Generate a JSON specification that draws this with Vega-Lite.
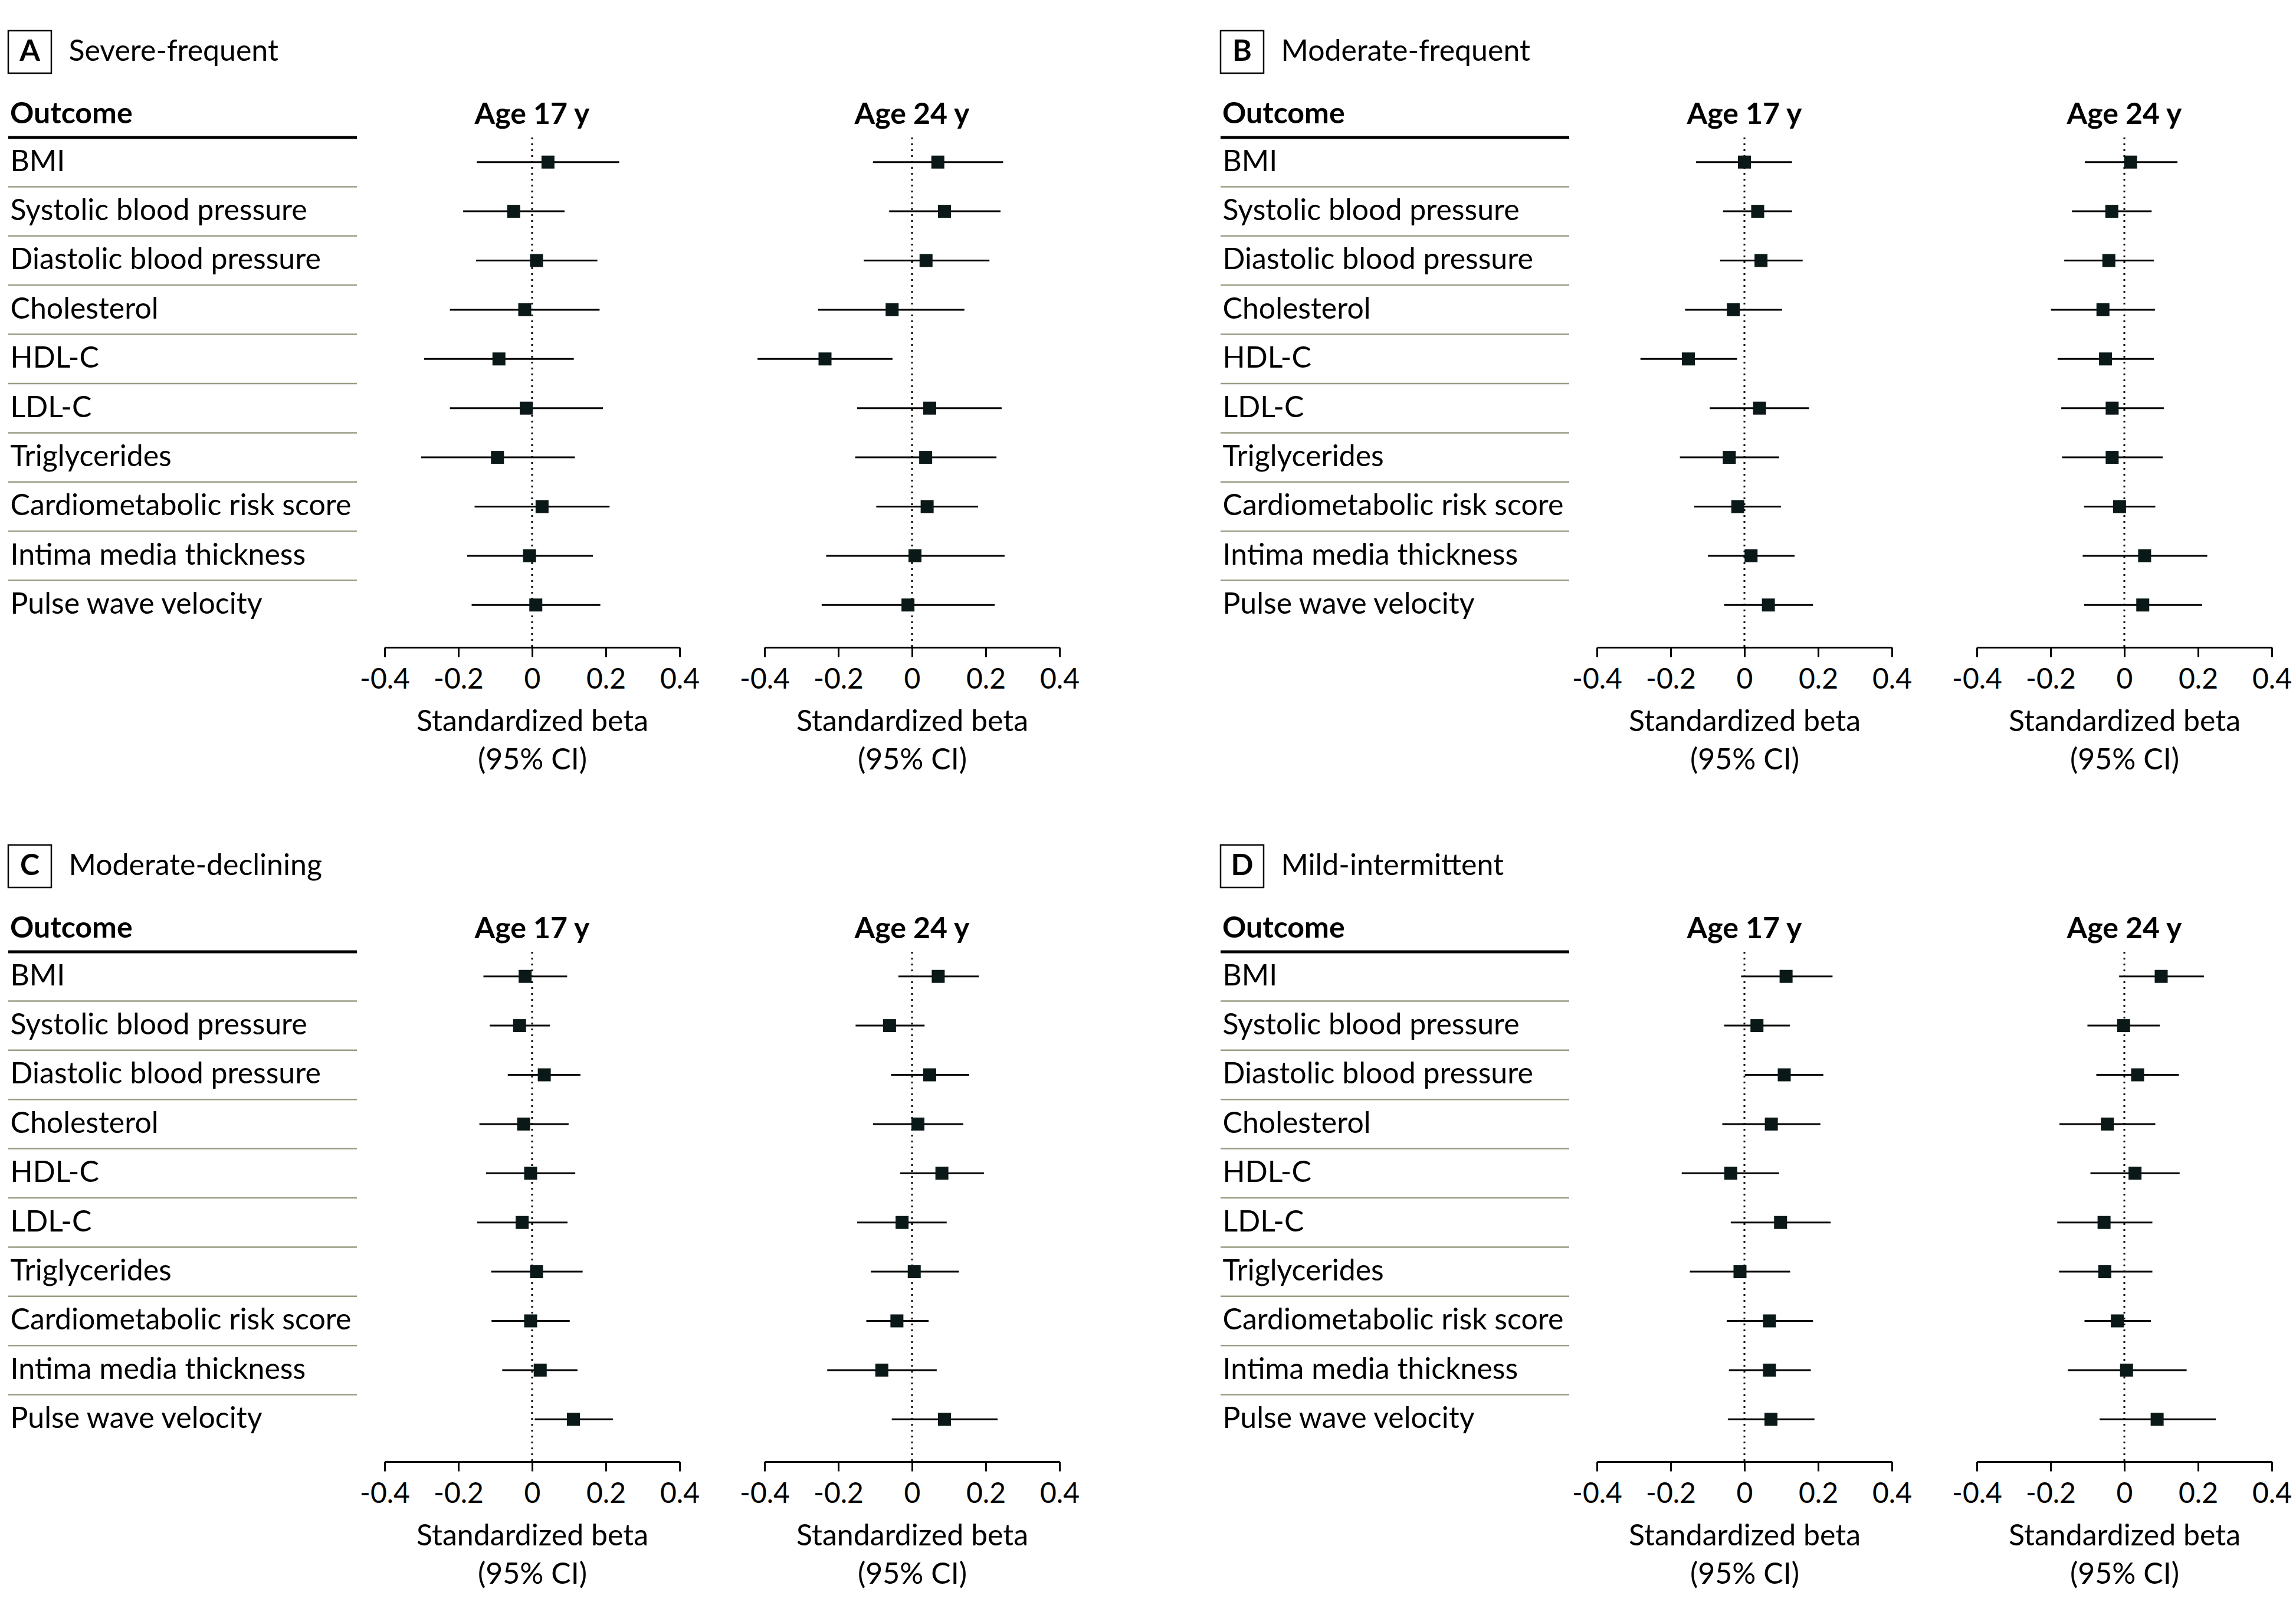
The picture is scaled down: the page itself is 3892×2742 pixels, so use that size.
{
  "$schema": "https://vega.github.io/schema/vega-lite/v6.json",
  "background": "white",
  "padding": {"left": 11, "top": 50, "right": 8, "bottom": 10},
  "config": {
    "font": "Lato",
    "view": {"stroke": null},
    "title": {"fontSize": 50, "fontWeight": "bold", "color": "black", "baseline": "alphabetic", "offset": 12, "frame": "group"},
    "text": {"fontSize": 50, "color": "black", "baseline": "middle"},
    "axis": {
      "labelFontSize": 48, "labelColor": "black", "titleFontSize": 50, "titleColor": "black",
      "titleFontWeight": "normal", "domainColor": "black", "tickColor": "black", "grid": false,
      "tickSize": 16, "tickWidth": 3, "domainWidth": 3, "labelPadding": 15, "titlePadding": 22, "titleLineHeight": 65,
      "labelOverlap": false, "labelFlush": false
    }
  },
  "datasets": {
    "outcomes": [
      {"outcome": "BMI"}, {"outcome": "Systolic blood pressure"}, {"outcome": "Diastolic blood pressure"},
      {"outcome": "Cholesterol"}, {"outcome": "HDL-C"}, {"outcome": "LDL-C"}, {"outcome": "Triglycerides"},
      {"outcome": "Cardiometabolic risk score"}, {"outcome": "Intima media thickness"}, {"outcome": "Pulse wave velocity"}
    ],
    "beta": [
      {"panel": "A", "age": 17, "outcome": "BMI", "beta": 0.043, "lo": -0.150, "hi": 0.236},
      {"panel": "A", "age": 17, "outcome": "Systolic blood pressure", "beta": -0.050, "lo": -0.187, "hi": 0.088},
      {"panel": "A", "age": 17, "outcome": "Diastolic blood pressure", "beta": 0.012, "lo": -0.152, "hi": 0.177},
      {"panel": "A", "age": 17, "outcome": "Cholesterol", "beta": -0.020, "lo": -0.223, "hi": 0.183},
      {"panel": "A", "age": 17, "outcome": "HDL-C", "beta": -0.090, "lo": -0.293, "hi": 0.113},
      {"panel": "A", "age": 17, "outcome": "LDL-C", "beta": -0.016, "lo": -0.223, "hi": 0.192},
      {"panel": "A", "age": 17, "outcome": "Triglycerides", "beta": -0.094, "lo": -0.301, "hi": 0.116},
      {"panel": "A", "age": 17, "outcome": "Cardiometabolic risk score", "beta": 0.027, "lo": -0.156, "hi": 0.210},
      {"panel": "A", "age": 17, "outcome": "Intima media thickness", "beta": -0.007, "lo": -0.176, "hi": 0.165},
      {"panel": "A", "age": 17, "outcome": "Pulse wave velocity", "beta": 0.010, "lo": -0.164, "hi": 0.185},
      {"panel": "A", "age": 24, "outcome": "BMI", "beta": 0.070, "lo": -0.106, "hi": 0.247},
      {"panel": "A", "age": 24, "outcome": "Systolic blood pressure", "beta": 0.088, "lo": -0.062, "hi": 0.240},
      {"panel": "A", "age": 24, "outcome": "Diastolic blood pressure", "beta": 0.038, "lo": -0.131, "hi": 0.210},
      {"panel": "A", "age": 24, "outcome": "Cholesterol", "beta": -0.054, "lo": -0.255, "hi": 0.142},
      {"panel": "A", "age": 24, "outcome": "HDL-C", "beta": -0.236, "lo": -0.419, "hi": -0.053},
      {"panel": "A", "age": 24, "outcome": "LDL-C", "beta": 0.048, "lo": -0.149, "hi": 0.243},
      {"panel": "A", "age": 24, "outcome": "Triglycerides", "beta": 0.037, "lo": -0.154, "hi": 0.229},
      {"panel": "A", "age": 24, "outcome": "Cardiometabolic risk score", "beta": 0.041, "lo": -0.097, "hi": 0.179},
      {"panel": "A", "age": 24, "outcome": "Intima media thickness", "beta": 0.008, "lo": -0.233, "hi": 0.251},
      {"panel": "A", "age": 24, "outcome": "Pulse wave velocity", "beta": -0.011, "lo": -0.245, "hi": 0.224},
      {"panel": "B", "age": 17, "outcome": "BMI", "beta": 0.000, "lo": -0.131, "hi": 0.129},
      {"panel": "B", "age": 17, "outcome": "Systolic blood pressure", "beta": 0.036, "lo": -0.058, "hi": 0.129},
      {"panel": "B", "age": 17, "outcome": "Diastolic blood pressure", "beta": 0.045, "lo": -0.066, "hi": 0.158},
      {"panel": "B", "age": 17, "outcome": "Cholesterol", "beta": -0.030, "lo": -0.161, "hi": 0.102},
      {"panel": "B", "age": 17, "outcome": "HDL-C", "beta": -0.152, "lo": -0.282, "hi": -0.020},
      {"panel": "B", "age": 17, "outcome": "LDL-C", "beta": 0.041, "lo": -0.094, "hi": 0.175},
      {"panel": "B", "age": 17, "outcome": "Triglycerides", "beta": -0.041, "lo": -0.175, "hi": 0.094},
      {"panel": "B", "age": 17, "outcome": "Cardiometabolic risk score", "beta": -0.018, "lo": -0.136, "hi": 0.099},
      {"panel": "B", "age": 17, "outcome": "Intima media thickness", "beta": 0.018, "lo": -0.099, "hi": 0.136},
      {"panel": "B", "age": 17, "outcome": "Pulse wave velocity", "beta": 0.065, "lo": -0.055, "hi": 0.186},
      {"panel": "B", "age": 24, "outcome": "BMI", "beta": 0.017, "lo": -0.107, "hi": 0.144},
      {"panel": "B", "age": 24, "outcome": "Systolic blood pressure", "beta": -0.034, "lo": -0.142, "hi": 0.074},
      {"panel": "B", "age": 24, "outcome": "Diastolic blood pressure", "beta": -0.042, "lo": -0.163, "hi": 0.080},
      {"panel": "B", "age": 24, "outcome": "Cholesterol", "beta": -0.058, "lo": -0.199, "hi": 0.083},
      {"panel": "B", "age": 24, "outcome": "HDL-C", "beta": -0.051, "lo": -0.181, "hi": 0.080},
      {"panel": "B", "age": 24, "outcome": "LDL-C", "beta": -0.033, "lo": -0.171, "hi": 0.107},
      {"panel": "B", "age": 24, "outcome": "Triglycerides", "beta": -0.033, "lo": -0.169, "hi": 0.104},
      {"panel": "B", "age": 24, "outcome": "Cardiometabolic risk score", "beta": -0.013, "lo": -0.109, "hi": 0.084},
      {"panel": "B", "age": 24, "outcome": "Intima media thickness", "beta": 0.055, "lo": -0.113, "hi": 0.225},
      {"panel": "B", "age": 24, "outcome": "Pulse wave velocity", "beta": 0.050, "lo": -0.109, "hi": 0.211},
      {"panel": "C", "age": 17, "outcome": "BMI", "beta": -0.019, "lo": -0.132, "hi": 0.095},
      {"panel": "C", "age": 17, "outcome": "Systolic blood pressure", "beta": -0.034, "lo": -0.115, "hi": 0.048},
      {"panel": "C", "age": 17, "outcome": "Diastolic blood pressure", "beta": 0.033, "lo": -0.066, "hi": 0.131},
      {"panel": "C", "age": 17, "outcome": "Cholesterol", "beta": -0.023, "lo": -0.143, "hi": 0.099},
      {"panel": "C", "age": 17, "outcome": "HDL-C", "beta": -0.004, "lo": -0.125, "hi": 0.117},
      {"panel": "C", "age": 17, "outcome": "LDL-C", "beta": -0.027, "lo": -0.149, "hi": 0.096},
      {"panel": "C", "age": 17, "outcome": "Triglycerides", "beta": 0.012, "lo": -0.111, "hi": 0.137},
      {"panel": "C", "age": 17, "outcome": "Cardiometabolic risk score", "beta": -0.004, "lo": -0.110, "hi": 0.102},
      {"panel": "C", "age": 17, "outcome": "Intima media thickness", "beta": 0.022, "lo": -0.081, "hi": 0.123},
      {"panel": "C", "age": 17, "outcome": "Pulse wave velocity", "beta": 0.112, "lo": 0.007, "hi": 0.219},
      {"panel": "C", "age": 24, "outcome": "BMI", "beta": 0.071, "lo": -0.037, "hi": 0.181},
      {"panel": "C", "age": 24, "outcome": "Systolic blood pressure", "beta": -0.061, "lo": -0.153, "hi": 0.034},
      {"panel": "C", "age": 24, "outcome": "Diastolic blood pressure", "beta": 0.048, "lo": -0.057, "hi": 0.155},
      {"panel": "C", "age": 24, "outcome": "Cholesterol", "beta": 0.016, "lo": -0.106, "hi": 0.139},
      {"panel": "C", "age": 24, "outcome": "HDL-C", "beta": 0.081, "lo": -0.032, "hi": 0.195},
      {"panel": "C", "age": 24, "outcome": "LDL-C", "beta": -0.027, "lo": -0.149, "hi": 0.094},
      {"panel": "C", "age": 24, "outcome": "Triglycerides", "beta": 0.006, "lo": -0.112, "hi": 0.127},
      {"panel": "C", "age": 24, "outcome": "Cardiometabolic risk score", "beta": -0.041, "lo": -0.124, "hi": 0.045},
      {"panel": "C", "age": 24, "outcome": "Intima media thickness", "beta": -0.082, "lo": -0.230, "hi": 0.067},
      {"panel": "C", "age": 24, "outcome": "Pulse wave velocity", "beta": 0.088, "lo": -0.055, "hi": 0.232},
      {"panel": "D", "age": 17, "outcome": "BMI", "beta": 0.113, "lo": -0.009, "hi": 0.239},
      {"panel": "D", "age": 17, "outcome": "Systolic blood pressure", "beta": 0.034, "lo": -0.055, "hi": 0.123},
      {"panel": "D", "age": 17, "outcome": "Diastolic blood pressure", "beta": 0.108, "lo": 0.001, "hi": 0.214},
      {"panel": "D", "age": 17, "outcome": "Cholesterol", "beta": 0.073, "lo": -0.060, "hi": 0.206},
      {"panel": "D", "age": 17, "outcome": "HDL-C", "beta": -0.037, "lo": -0.170, "hi": 0.094},
      {"panel": "D", "age": 17, "outcome": "LDL-C", "beta": 0.098, "lo": -0.037, "hi": 0.234},
      {"panel": "D", "age": 17, "outcome": "Triglycerides", "beta": -0.012, "lo": -0.148, "hi": 0.124},
      {"panel": "D", "age": 17, "outcome": "Cardiometabolic risk score", "beta": 0.068, "lo": -0.048, "hi": 0.186},
      {"panel": "D", "age": 17, "outcome": "Intima media thickness", "beta": 0.068, "lo": -0.042, "hi": 0.180},
      {"panel": "D", "age": 17, "outcome": "Pulse wave velocity", "beta": 0.072, "lo": -0.045, "hi": 0.190},
      {"panel": "D", "age": 24, "outcome": "BMI", "beta": 0.100, "lo": -0.014, "hi": 0.216},
      {"panel": "D", "age": 24, "outcome": "Systolic blood pressure", "beta": -0.002, "lo": -0.100, "hi": 0.096},
      {"panel": "D", "age": 24, "outcome": "Diastolic blood pressure", "beta": 0.036, "lo": -0.076, "hi": 0.148},
      {"panel": "D", "age": 24, "outcome": "Cholesterol", "beta": -0.046, "lo": -0.176, "hi": 0.084},
      {"panel": "D", "age": 24, "outcome": "HDL-C", "beta": 0.029, "lo": -0.092, "hi": 0.150},
      {"panel": "D", "age": 24, "outcome": "LDL-C", "beta": -0.055, "lo": -0.182, "hi": 0.076},
      {"panel": "D", "age": 24, "outcome": "Triglycerides", "beta": -0.053, "lo": -0.177, "hi": 0.076},
      {"panel": "D", "age": 24, "outcome": "Cardiometabolic risk score", "beta": -0.019, "lo": -0.108, "hi": 0.072},
      {"panel": "D", "age": 24, "outcome": "Intima media thickness", "beta": 0.006, "lo": -0.153, "hi": 0.169},
      {"panel": "D", "age": 24, "outcome": "Pulse wave velocity", "beta": 0.089, "lo": -0.067, "hi": 0.248}
    ]
  },
  "bounds": "flush",
  "spacing": 1380,
  "vconcat": [
    {
      "bounds": "flush",
      "spacing": 2055,
      "hconcat": [
        {
          "bounds": "flush", "spacing": 109,
          "vconcat": [
            {
              "width": 73, "height": 72,
              "view": {"stroke": "black", "strokeWidth": 2.5},
              "data": {"values": [{"letter": "A", "name": "Severe-frequent"}]},
              "layer": [
                {"mark": {"type": "text", "fontWeight": "bold", "align": "center"}, "encoding": {"text": {"field": "letter"}}},
                {"mark": {"type": "text", "align": "left", "dx": 66}, "encoding": {"text": {"field": "name"}}}
              ]
            },
            {
              "bounds": "flush", "spacing": 47,
              "hconcat": [
                {
                  "width": 591, "height": 864,
                  "title": {"text": "Outcome", "anchor": "start", "dx": 3},
                  "data": {"name": "outcomes"},
                  "layer": [
                    {
                      "transform": [{"filter": "datum.outcome !== 'Pulse wave velocity'"}],
                      "mark": {"type": "rule", "color": "#9a9d85", "strokeWidth": 2.5},
                      "encoding": {"y": {"field": "outcome", "type": "nominal", "bandPosition": 1,
                        "scale": {"type": "band", "domain": ["BMI", "Systolic blood pressure", "Diastolic blood pressure", "Cholesterol", "HDL-C", "LDL-C", "Triglycerides", "Cardiometabolic risk score", "Intima media thickness", "Pulse wave velocity"], "paddingInner": 0, "paddingOuter": 0.18, "align": 0},
                        "axis": {"title": null, "ticks": false, "tickSize": 0, "domain": false, "labelAlign": "left", "labelBaseline": "middle", "labelPadding": -3, "labelLimit": 0, "labelFontSize": 50}}}
                    },
                    {
                      "transform": [{"filter": "datum.outcome === 'BMI'"}],
                      "mark": {"type": "rule", "color": "black", "strokeWidth": 5},
                      "encoding": {"y": {"field": "outcome", "type": "nominal", "bandPosition": 0,
                        "scale": {"type": "band", "domain": ["BMI", "Systolic blood pressure", "Diastolic blood pressure", "Cholesterol", "HDL-C", "LDL-C", "Triglycerides", "Cardiometabolic risk score", "Intima media thickness", "Pulse wave velocity"], "paddingInner": 0, "paddingOuter": 0.18, "align": 0},
                        "axis": {"title": null, "ticks": false, "tickSize": 0, "domain": false, "labelAlign": "left", "labelBaseline": "middle", "labelPadding": -3, "labelLimit": 0, "labelFontSize": 50}}}
                    }
                  ]
                },
                {
                  "bounds": "flush", "spacing": 144,
                  "hconcat": [
                    {
                      "width": 500, "height": 864, "title": "Age 17 y",
                      "layer": [
                        {"data": {"values": [{"ref": 0}]}, "mark": {"type": "rule", "strokeDash": [3, 7], "strokeWidth": 3, "color": "black"},
                         "encoding": {"x": {"field": "ref", "type": "quantitative", "scale": {"domain": [-0.4, 0.4], "nice": false},
                           "axis": {"values": [-0.4, -0.2, 0, 0.2, 0.4], "labelExpr": "datum.value == 0 ? '0' : (datum.value < 0 ? '-' : '') + format(abs(datum.value), '.1f')", "title": ["Standardized beta", "(95% CI)"]}}}},
                        {
                          "data": {"name": "beta"},
                          "transform": [{"filter": "datum.panel === 'A' && datum.age === 17"}],
                          "encoding": {"y": {"field": "outcome", "type": "nominal", "axis": null,
                            "scale": {"type": "band", "domain": ["BMI", "Systolic blood pressure", "Diastolic blood pressure", "Cholesterol", "HDL-C", "LDL-C", "Triglycerides", "Cardiometabolic risk score", "Intima media thickness", "Pulse wave velocity"], "paddingInner": 0, "paddingOuter": 0.18, "align": 0}}},
                          "layer": [
                            {"mark": {"type": "rule", "strokeWidth": 3, "color": "black"},
                             "encoding": {"x": {"field": "lo", "type": "quantitative", "scale": {"domain": [-0.4, 0.4], "nice": false},
                               "axis": {"values": [-0.4, -0.2, 0, 0.2, 0.4], "labelExpr": "datum.value == 0 ? '0' : (datum.value < 0 ? '-' : '') + format(abs(datum.value), '.1f')", "title": ["Standardized beta", "(95% CI)"]}}, "x2": {"field": "hi"}}},
                            {"mark": {"type": "point", "shape": "square", "filled": true, "size": 484, "color": "#0a1818", "opacity": 1},
                             "encoding": {"x": {"field": "beta", "type": "quantitative", "scale": {"domain": [-0.4, 0.4], "nice": false},
                               "axis": {"values": [-0.4, -0.2, 0, 0.2, 0.4], "labelExpr": "datum.value == 0 ? '0' : (datum.value < 0 ? '-' : '') + format(abs(datum.value), '.1f')", "title": ["Standardized beta", "(95% CI)"]}}}}
                          ]
                        }
                      ]
                    },
                    {
                      "width": 500, "height": 864, "title": "Age 24 y",
                      "layer": [
                        {"data": {"values": [{"ref": 0}]}, "mark": {"type": "rule", "strokeDash": [3, 7], "strokeWidth": 3, "color": "black"},
                         "encoding": {"x": {"field": "ref", "type": "quantitative", "scale": {"domain": [-0.4, 0.4], "nice": false},
                           "axis": {"values": [-0.4, -0.2, 0, 0.2, 0.4], "labelExpr": "datum.value == 0 ? '0' : (datum.value < 0 ? '-' : '') + format(abs(datum.value), '.1f')", "title": ["Standardized beta", "(95% CI)"]}}}},
                        {
                          "data": {"name": "beta"},
                          "transform": [{"filter": "datum.panel === 'A' && datum.age === 24"}],
                          "encoding": {"y": {"field": "outcome", "type": "nominal", "axis": null,
                            "scale": {"type": "band", "domain": ["BMI", "Systolic blood pressure", "Diastolic blood pressure", "Cholesterol", "HDL-C", "LDL-C", "Triglycerides", "Cardiometabolic risk score", "Intima media thickness", "Pulse wave velocity"], "paddingInner": 0, "paddingOuter": 0.18, "align": 0}}},
                          "layer": [
                            {"mark": {"type": "rule", "strokeWidth": 3, "color": "black"},
                             "encoding": {"x": {"field": "lo", "type": "quantitative", "scale": {"domain": [-0.4, 0.4], "nice": false},
                               "axis": {"values": [-0.4, -0.2, 0, 0.2, 0.4], "labelExpr": "datum.value == 0 ? '0' : (datum.value < 0 ? '-' : '') + format(abs(datum.value), '.1f')", "title": ["Standardized beta", "(95% CI)"]}}, "x2": {"field": "hi"}}},
                            {"mark": {"type": "point", "shape": "square", "filled": true, "size": 484, "color": "#0a1818", "opacity": 1},
                             "encoding": {"x": {"field": "beta", "type": "quantitative", "scale": {"domain": [-0.4, 0.4], "nice": false},
                               "axis": {"values": [-0.4, -0.2, 0, 0.2, 0.4], "labelExpr": "datum.value == 0 ? '0' : (datum.value < 0 ? '-' : '') + format(abs(datum.value), '.1f')", "title": ["Standardized beta", "(95% CI)"]}}}}
                          ]
                        }
                      ]
                    }
                  ]
                }
              ]
            }
          ]
        },
        {
          "bounds": "flush", "spacing": 109,
          "vconcat": [
            {
              "width": 73, "height": 72,
              "view": {"stroke": "black", "strokeWidth": 2.5},
              "data": {"values": [{"letter": "B", "name": "Moderate-frequent"}]},
              "layer": [
                {"mark": {"type": "text", "fontWeight": "bold", "align": "center"}, "encoding": {"text": {"field": "letter"}}},
                {"mark": {"type": "text", "align": "left", "dx": 66}, "encoding": {"text": {"field": "name"}}}
              ]
            },
            {
              "bounds": "flush", "spacing": 47,
              "hconcat": [
                {
                  "width": 591, "height": 864,
                  "title": {"text": "Outcome", "anchor": "start", "dx": 3},
                  "data": {"name": "outcomes"},
                  "layer": [
                    {
                      "transform": [{"filter": "datum.outcome !== 'Pulse wave velocity'"}],
                      "mark": {"type": "rule", "color": "#9a9d85", "strokeWidth": 2.5},
                      "encoding": {"y": {"field": "outcome", "type": "nominal", "bandPosition": 1,
                        "scale": {"type": "band", "domain": ["BMI", "Systolic blood pressure", "Diastolic blood pressure", "Cholesterol", "HDL-C", "LDL-C", "Triglycerides", "Cardiometabolic risk score", "Intima media thickness", "Pulse wave velocity"], "paddingInner": 0, "paddingOuter": 0.18, "align": 0},
                        "axis": {"title": null, "ticks": false, "tickSize": 0, "domain": false, "labelAlign": "left", "labelBaseline": "middle", "labelPadding": -3, "labelLimit": 0, "labelFontSize": 50}}}
                    },
                    {
                      "transform": [{"filter": "datum.outcome === 'BMI'"}],
                      "mark": {"type": "rule", "color": "black", "strokeWidth": 5},
                      "encoding": {"y": {"field": "outcome", "type": "nominal", "bandPosition": 0,
                        "scale": {"type": "band", "domain": ["BMI", "Systolic blood pressure", "Diastolic blood pressure", "Cholesterol", "HDL-C", "LDL-C", "Triglycerides", "Cardiometabolic risk score", "Intima media thickness", "Pulse wave velocity"], "paddingInner": 0, "paddingOuter": 0.18, "align": 0},
                        "axis": {"title": null, "ticks": false, "tickSize": 0, "domain": false, "labelAlign": "left", "labelBaseline": "middle", "labelPadding": -3, "labelLimit": 0, "labelFontSize": 50}}}
                    }
                  ]
                },
                {
                  "bounds": "flush", "spacing": 144,
                  "hconcat": [
                    {
                      "width": 500, "height": 864, "title": "Age 17 y",
                      "layer": [
                        {"data": {"values": [{"ref": 0}]}, "mark": {"type": "rule", "strokeDash": [3, 7], "strokeWidth": 3, "color": "black"},
                         "encoding": {"x": {"field": "ref", "type": "quantitative", "scale": {"domain": [-0.4, 0.4], "nice": false},
                           "axis": {"values": [-0.4, -0.2, 0, 0.2, 0.4], "labelExpr": "datum.value == 0 ? '0' : (datum.value < 0 ? '-' : '') + format(abs(datum.value), '.1f')", "title": ["Standardized beta", "(95% CI)"]}}}},
                        {
                          "data": {"name": "beta"},
                          "transform": [{"filter": "datum.panel === 'B' && datum.age === 17"}],
                          "encoding": {"y": {"field": "outcome", "type": "nominal", "axis": null,
                            "scale": {"type": "band", "domain": ["BMI", "Systolic blood pressure", "Diastolic blood pressure", "Cholesterol", "HDL-C", "LDL-C", "Triglycerides", "Cardiometabolic risk score", "Intima media thickness", "Pulse wave velocity"], "paddingInner": 0, "paddingOuter": 0.18, "align": 0}}},
                          "layer": [
                            {"mark": {"type": "rule", "strokeWidth": 3, "color": "black"},
                             "encoding": {"x": {"field": "lo", "type": "quantitative", "scale": {"domain": [-0.4, 0.4], "nice": false},
                               "axis": {"values": [-0.4, -0.2, 0, 0.2, 0.4], "labelExpr": "datum.value == 0 ? '0' : (datum.value < 0 ? '-' : '') + format(abs(datum.value), '.1f')", "title": ["Standardized beta", "(95% CI)"]}}, "x2": {"field": "hi"}}},
                            {"mark": {"type": "point", "shape": "square", "filled": true, "size": 484, "color": "#0a1818", "opacity": 1},
                             "encoding": {"x": {"field": "beta", "type": "quantitative", "scale": {"domain": [-0.4, 0.4], "nice": false},
                               "axis": {"values": [-0.4, -0.2, 0, 0.2, 0.4], "labelExpr": "datum.value == 0 ? '0' : (datum.value < 0 ? '-' : '') + format(abs(datum.value), '.1f')", "title": ["Standardized beta", "(95% CI)"]}}}}
                          ]
                        }
                      ]
                    },
                    {
                      "width": 500, "height": 864, "title": "Age 24 y",
                      "layer": [
                        {"data": {"values": [{"ref": 0}]}, "mark": {"type": "rule", "strokeDash": [3, 7], "strokeWidth": 3, "color": "black"},
                         "encoding": {"x": {"field": "ref", "type": "quantitative", "scale": {"domain": [-0.4, 0.4], "nice": false},
                           "axis": {"values": [-0.4, -0.2, 0, 0.2, 0.4], "labelExpr": "datum.value == 0 ? '0' : (datum.value < 0 ? '-' : '') + format(abs(datum.value), '.1f')", "title": ["Standardized beta", "(95% CI)"]}}}},
                        {
                          "data": {"name": "beta"},
                          "transform": [{"filter": "datum.panel === 'B' && datum.age === 24"}],
                          "encoding": {"y": {"field": "outcome", "type": "nominal", "axis": null,
                            "scale": {"type": "band", "domain": ["BMI", "Systolic blood pressure", "Diastolic blood pressure", "Cholesterol", "HDL-C", "LDL-C", "Triglycerides", "Cardiometabolic risk score", "Intima media thickness", "Pulse wave velocity"], "paddingInner": 0, "paddingOuter": 0.18, "align": 0}}},
                          "layer": [
                            {"mark": {"type": "rule", "strokeWidth": 3, "color": "black"},
                             "encoding": {"x": {"field": "lo", "type": "quantitative", "scale": {"domain": [-0.4, 0.4], "nice": false},
                               "axis": {"values": [-0.4, -0.2, 0, 0.2, 0.4], "labelExpr": "datum.value == 0 ? '0' : (datum.value < 0 ? '-' : '') + format(abs(datum.value), '.1f')", "title": ["Standardized beta", "(95% CI)"]}}, "x2": {"field": "hi"}}},
                            {"mark": {"type": "point", "shape": "square", "filled": true, "size": 484, "color": "#0a1818", "opacity": 1},
                             "encoding": {"x": {"field": "beta", "type": "quantitative", "scale": {"domain": [-0.4, 0.4], "nice": false},
                               "axis": {"values": [-0.4, -0.2, 0, 0.2, 0.4], "labelExpr": "datum.value == 0 ? '0' : (datum.value < 0 ? '-' : '') + format(abs(datum.value), '.1f')", "title": ["Standardized beta", "(95% CI)"]}}}}
                          ]
                        }
                      ]
                    }
                  ]
                }
              ]
            }
          ]
        }
      ]
    },
    {
      "bounds": "flush",
      "spacing": 2055,
      "hconcat": [
        {
          "bounds": "flush", "spacing": 109,
          "vconcat": [
            {
              "width": 73, "height": 72,
              "view": {"stroke": "black", "strokeWidth": 2.5},
              "data": {"values": [{"letter": "C", "name": "Moderate-declining"}]},
              "layer": [
                {"mark": {"type": "text", "fontWeight": "bold", "align": "center"}, "encoding": {"text": {"field": "letter"}}},
                {"mark": {"type": "text", "align": "left", "dx": 66}, "encoding": {"text": {"field": "name"}}}
              ]
            },
            {
              "bounds": "flush", "spacing": 47,
              "hconcat": [
                {
                  "width": 591, "height": 864,
                  "title": {"text": "Outcome", "anchor": "start", "dx": 3},
                  "data": {"name": "outcomes"},
                  "layer": [
                    {
                      "transform": [{"filter": "datum.outcome !== 'Pulse wave velocity'"}],
                      "mark": {"type": "rule", "color": "#9a9d85", "strokeWidth": 2.5},
                      "encoding": {"y": {"field": "outcome", "type": "nominal", "bandPosition": 1,
                        "scale": {"type": "band", "domain": ["BMI", "Systolic blood pressure", "Diastolic blood pressure", "Cholesterol", "HDL-C", "LDL-C", "Triglycerides", "Cardiometabolic risk score", "Intima media thickness", "Pulse wave velocity"], "paddingInner": 0, "paddingOuter": 0.18, "align": 0},
                        "axis": {"title": null, "ticks": false, "tickSize": 0, "domain": false, "labelAlign": "left", "labelBaseline": "middle", "labelPadding": -3, "labelLimit": 0, "labelFontSize": 50}}}
                    },
                    {
                      "transform": [{"filter": "datum.outcome === 'BMI'"}],
                      "mark": {"type": "rule", "color": "black", "strokeWidth": 5},
                      "encoding": {"y": {"field": "outcome", "type": "nominal", "bandPosition": 0,
                        "scale": {"type": "band", "domain": ["BMI", "Systolic blood pressure", "Diastolic blood pressure", "Cholesterol", "HDL-C", "LDL-C", "Triglycerides", "Cardiometabolic risk score", "Intima media thickness", "Pulse wave velocity"], "paddingInner": 0, "paddingOuter": 0.18, "align": 0},
                        "axis": {"title": null, "ticks": false, "tickSize": 0, "domain": false, "labelAlign": "left", "labelBaseline": "middle", "labelPadding": -3, "labelLimit": 0, "labelFontSize": 50}}}
                    }
                  ]
                },
                {
                  "bounds": "flush", "spacing": 144,
                  "hconcat": [
                    {
                      "width": 500, "height": 864, "title": "Age 17 y",
                      "layer": [
                        {"data": {"values": [{"ref": 0}]}, "mark": {"type": "rule", "strokeDash": [3, 7], "strokeWidth": 3, "color": "black"},
                         "encoding": {"x": {"field": "ref", "type": "quantitative", "scale": {"domain": [-0.4, 0.4], "nice": false},
                           "axis": {"values": [-0.4, -0.2, 0, 0.2, 0.4], "labelExpr": "datum.value == 0 ? '0' : (datum.value < 0 ? '-' : '') + format(abs(datum.value), '.1f')", "title": ["Standardized beta", "(95% CI)"]}}}},
                        {
                          "data": {"name": "beta"},
                          "transform": [{"filter": "datum.panel === 'C' && datum.age === 17"}],
                          "encoding": {"y": {"field": "outcome", "type": "nominal", "axis": null,
                            "scale": {"type": "band", "domain": ["BMI", "Systolic blood pressure", "Diastolic blood pressure", "Cholesterol", "HDL-C", "LDL-C", "Triglycerides", "Cardiometabolic risk score", "Intima media thickness", "Pulse wave velocity"], "paddingInner": 0, "paddingOuter": 0.18, "align": 0}}},
                          "layer": [
                            {"mark": {"type": "rule", "strokeWidth": 3, "color": "black"},
                             "encoding": {"x": {"field": "lo", "type": "quantitative", "scale": {"domain": [-0.4, 0.4], "nice": false},
                               "axis": {"values": [-0.4, -0.2, 0, 0.2, 0.4], "labelExpr": "datum.value == 0 ? '0' : (datum.value < 0 ? '-' : '') + format(abs(datum.value), '.1f')", "title": ["Standardized beta", "(95% CI)"]}}, "x2": {"field": "hi"}}},
                            {"mark": {"type": "point", "shape": "square", "filled": true, "size": 484, "color": "#0a1818", "opacity": 1},
                             "encoding": {"x": {"field": "beta", "type": "quantitative", "scale": {"domain": [-0.4, 0.4], "nice": false},
                               "axis": {"values": [-0.4, -0.2, 0, 0.2, 0.4], "labelExpr": "datum.value == 0 ? '0' : (datum.value < 0 ? '-' : '') + format(abs(datum.value), '.1f')", "title": ["Standardized beta", "(95% CI)"]}}}}
                          ]
                        }
                      ]
                    },
                    {
                      "width": 500, "height": 864, "title": "Age 24 y",
                      "layer": [
                        {"data": {"values": [{"ref": 0}]}, "mark": {"type": "rule", "strokeDash": [3, 7], "strokeWidth": 3, "color": "black"},
                         "encoding": {"x": {"field": "ref", "type": "quantitative", "scale": {"domain": [-0.4, 0.4], "nice": false},
                           "axis": {"values": [-0.4, -0.2, 0, 0.2, 0.4], "labelExpr": "datum.value == 0 ? '0' : (datum.value < 0 ? '-' : '') + format(abs(datum.value), '.1f')", "title": ["Standardized beta", "(95% CI)"]}}}},
                        {
                          "data": {"name": "beta"},
                          "transform": [{"filter": "datum.panel === 'C' && datum.age === 24"}],
                          "encoding": {"y": {"field": "outcome", "type": "nominal", "axis": null,
                            "scale": {"type": "band", "domain": ["BMI", "Systolic blood pressure", "Diastolic blood pressure", "Cholesterol", "HDL-C", "LDL-C", "Triglycerides", "Cardiometabolic risk score", "Intima media thickness", "Pulse wave velocity"], "paddingInner": 0, "paddingOuter": 0.18, "align": 0}}},
                          "layer": [
                            {"mark": {"type": "rule", "strokeWidth": 3, "color": "black"},
                             "encoding": {"x": {"field": "lo", "type": "quantitative", "scale": {"domain": [-0.4, 0.4], "nice": false},
                               "axis": {"values": [-0.4, -0.2, 0, 0.2, 0.4], "labelExpr": "datum.value == 0 ? '0' : (datum.value < 0 ? '-' : '') + format(abs(datum.value), '.1f')", "title": ["Standardized beta", "(95% CI)"]}}, "x2": {"field": "hi"}}},
                            {"mark": {"type": "point", "shape": "square", "filled": true, "size": 484, "color": "#0a1818", "opacity": 1},
                             "encoding": {"x": {"field": "beta", "type": "quantitative", "scale": {"domain": [-0.4, 0.4], "nice": false},
                               "axis": {"values": [-0.4, -0.2, 0, 0.2, 0.4], "labelExpr": "datum.value == 0 ? '0' : (datum.value < 0 ? '-' : '') + format(abs(datum.value), '.1f')", "title": ["Standardized beta", "(95% CI)"]}}}}
                          ]
                        }
                      ]
                    }
                  ]
                }
              ]
            }
          ]
        },
        {
          "bounds": "flush", "spacing": 109,
          "vconcat": [
            {
              "width": 73, "height": 72,
              "view": {"stroke": "black", "strokeWidth": 2.5},
              "data": {"values": [{"letter": "D", "name": "Mild-intermittent"}]},
              "layer": [
                {"mark": {"type": "text", "fontWeight": "bold", "align": "center"}, "encoding": {"text": {"field": "letter"}}},
                {"mark": {"type": "text", "align": "left", "dx": 66}, "encoding": {"text": {"field": "name"}}}
              ]
            },
            {
              "bounds": "flush", "spacing": 47,
              "hconcat": [
                {
                  "width": 591, "height": 864,
                  "title": {"text": "Outcome", "anchor": "start", "dx": 3},
                  "data": {"name": "outcomes"},
                  "layer": [
                    {
                      "transform": [{"filter": "datum.outcome !== 'Pulse wave velocity'"}],
                      "mark": {"type": "rule", "color": "#9a9d85", "strokeWidth": 2.5},
                      "encoding": {"y": {"field": "outcome", "type": "nominal", "bandPosition": 1,
                        "scale": {"type": "band", "domain": ["BMI", "Systolic blood pressure", "Diastolic blood pressure", "Cholesterol", "HDL-C", "LDL-C", "Triglycerides", "Cardiometabolic risk score", "Intima media thickness", "Pulse wave velocity"], "paddingInner": 0, "paddingOuter": 0.18, "align": 0},
                        "axis": {"title": null, "ticks": false, "tickSize": 0, "domain": false, "labelAlign": "left", "labelBaseline": "middle", "labelPadding": -3, "labelLimit": 0, "labelFontSize": 50}}}
                    },
                    {
                      "transform": [{"filter": "datum.outcome === 'BMI'"}],
                      "mark": {"type": "rule", "color": "black", "strokeWidth": 5},
                      "encoding": {"y": {"field": "outcome", "type": "nominal", "bandPosition": 0,
                        "scale": {"type": "band", "domain": ["BMI", "Systolic blood pressure", "Diastolic blood pressure", "Cholesterol", "HDL-C", "LDL-C", "Triglycerides", "Cardiometabolic risk score", "Intima media thickness", "Pulse wave velocity"], "paddingInner": 0, "paddingOuter": 0.18, "align": 0},
                        "axis": {"title": null, "ticks": false, "tickSize": 0, "domain": false, "labelAlign": "left", "labelBaseline": "middle", "labelPadding": -3, "labelLimit": 0, "labelFontSize": 50}}}
                    }
                  ]
                },
                {
                  "bounds": "flush", "spacing": 144,
                  "hconcat": [
                    {
                      "width": 500, "height": 864, "title": "Age 17 y",
                      "layer": [
                        {"data": {"values": [{"ref": 0}]}, "mark": {"type": "rule", "strokeDash": [3, 7], "strokeWidth": 3, "color": "black"},
                         "encoding": {"x": {"field": "ref", "type": "quantitative", "scale": {"domain": [-0.4, 0.4], "nice": false},
                           "axis": {"values": [-0.4, -0.2, 0, 0.2, 0.4], "labelExpr": "datum.value == 0 ? '0' : (datum.value < 0 ? '-' : '') + format(abs(datum.value), '.1f')", "title": ["Standardized beta", "(95% CI)"]}}}},
                        {
                          "data": {"name": "beta"},
                          "transform": [{"filter": "datum.panel === 'D' && datum.age === 17"}],
                          "encoding": {"y": {"field": "outcome", "type": "nominal", "axis": null,
                            "scale": {"type": "band", "domain": ["BMI", "Systolic blood pressure", "Diastolic blood pressure", "Cholesterol", "HDL-C", "LDL-C", "Triglycerides", "Cardiometabolic risk score", "Intima media thickness", "Pulse wave velocity"], "paddingInner": 0, "paddingOuter": 0.18, "align": 0}}},
                          "layer": [
                            {"mark": {"type": "rule", "strokeWidth": 3, "color": "black"},
                             "encoding": {"x": {"field": "lo", "type": "quantitative", "scale": {"domain": [-0.4, 0.4], "nice": false},
                               "axis": {"values": [-0.4, -0.2, 0, 0.2, 0.4], "labelExpr": "datum.value == 0 ? '0' : (datum.value < 0 ? '-' : '') + format(abs(datum.value), '.1f')", "title": ["Standardized beta", "(95% CI)"]}}, "x2": {"field": "hi"}}},
                            {"mark": {"type": "point", "shape": "square", "filled": true, "size": 484, "color": "#0a1818", "opacity": 1},
                             "encoding": {"x": {"field": "beta", "type": "quantitative", "scale": {"domain": [-0.4, 0.4], "nice": false},
                               "axis": {"values": [-0.4, -0.2, 0, 0.2, 0.4], "labelExpr": "datum.value == 0 ? '0' : (datum.value < 0 ? '-' : '') + format(abs(datum.value), '.1f')", "title": ["Standardized beta", "(95% CI)"]}}}}
                          ]
                        }
                      ]
                    },
                    {
                      "width": 500, "height": 864, "title": "Age 24 y",
                      "layer": [
                        {"data": {"values": [{"ref": 0}]}, "mark": {"type": "rule", "strokeDash": [3, 7], "strokeWidth": 3, "color": "black"},
                         "encoding": {"x": {"field": "ref", "type": "quantitative", "scale": {"domain": [-0.4, 0.4], "nice": false},
                           "axis": {"values": [-0.4, -0.2, 0, 0.2, 0.4], "labelExpr": "datum.value == 0 ? '0' : (datum.value < 0 ? '-' : '') + format(abs(datum.value), '.1f')", "title": ["Standardized beta", "(95% CI)"]}}}},
                        {
                          "data": {"name": "beta"},
                          "transform": [{"filter": "datum.panel === 'D' && datum.age === 24"}],
                          "encoding": {"y": {"field": "outcome", "type": "nominal", "axis": null,
                            "scale": {"type": "band", "domain": ["BMI", "Systolic blood pressure", "Diastolic blood pressure", "Cholesterol", "HDL-C", "LDL-C", "Triglycerides", "Cardiometabolic risk score", "Intima media thickness", "Pulse wave velocity"], "paddingInner": 0, "paddingOuter": 0.18, "align": 0}}},
                          "layer": [
                            {"mark": {"type": "rule", "strokeWidth": 3, "color": "black"},
                             "encoding": {"x": {"field": "lo", "type": "quantitative", "scale": {"domain": [-0.4, 0.4], "nice": false},
                               "axis": {"values": [-0.4, -0.2, 0, 0.2, 0.4], "labelExpr": "datum.value == 0 ? '0' : (datum.value < 0 ? '-' : '') + format(abs(datum.value), '.1f')", "title": ["Standardized beta", "(95% CI)"]}}, "x2": {"field": "hi"}}},
                            {"mark": {"type": "point", "shape": "square", "filled": true, "size": 484, "color": "#0a1818", "opacity": 1},
                             "encoding": {"x": {"field": "beta", "type": "quantitative", "scale": {"domain": [-0.4, 0.4], "nice": false},
                               "axis": {"values": [-0.4, -0.2, 0, 0.2, 0.4], "labelExpr": "datum.value == 0 ? '0' : (datum.value < 0 ? '-' : '') + format(abs(datum.value), '.1f')", "title": ["Standardized beta", "(95% CI)"]}}}}
                          ]
                        }
                      ]
                    }
                  ]
                }
              ]
            }
          ]
        }
      ]
    }
  ]
}
